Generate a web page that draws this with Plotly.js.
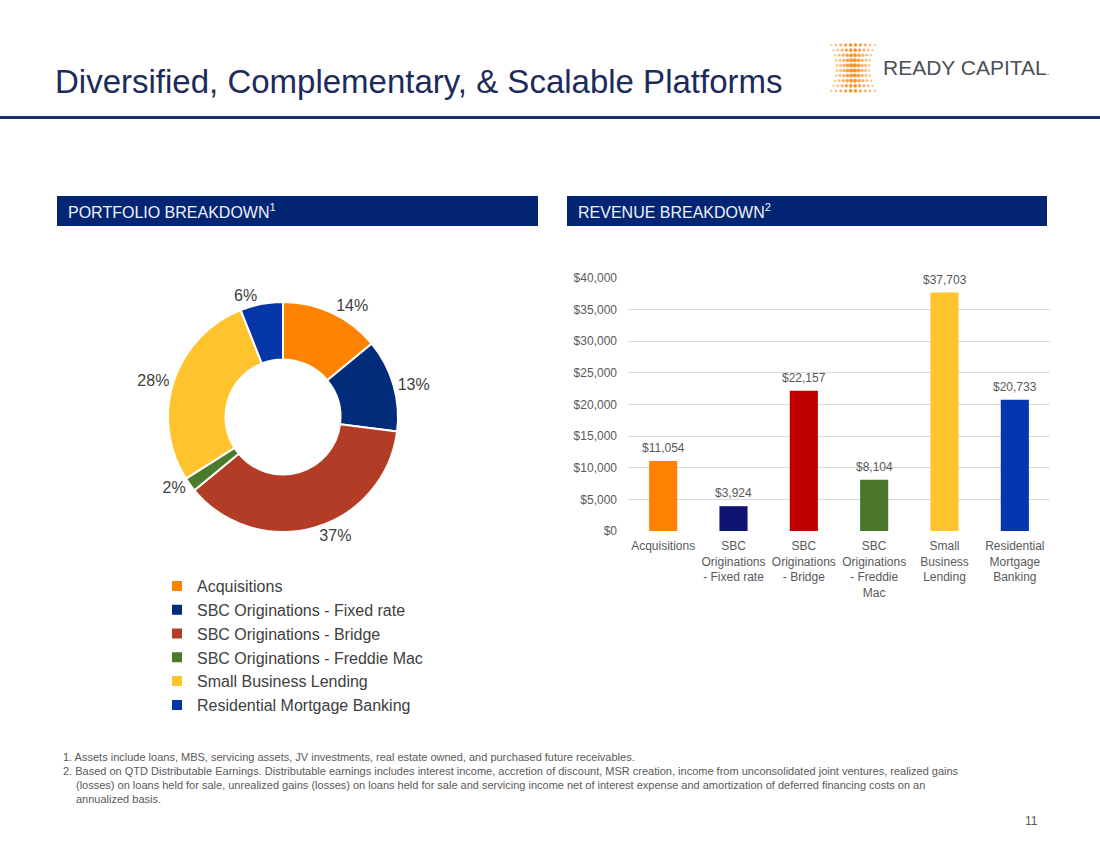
<!DOCTYPE html>
<html>
<head>
<meta charset="utf-8">
<script src="https://cdn.plot.ly/plotly-3.0.1.min.js"></script>
<style>
html,body{margin:0;padding:0;background:#fff;}
#chart{width:1100px;height:850px;}
</style>
</head>
<body>
<div id="chart"></div>
<script>
// ---------- DATA ----------
var pieLabels = ["Acquisitions", "SBC Originations - Fixed rate", "SBC Originations - Bridge",
                 "SBC Originations - Freddie Mac", "Small Business Lending", "Residential Mortgage Banking"];
var pieValues = [14, 13, 37, 2, 28, 6];
var pieColors = ["#FF8300", "#022B7A", "#B33C26", "#4A7B2B", "#FFC32D", "#0536A8"];

var barCategories = ["Acquisitions", "SBC<br>Originations<br>- Fixed rate", "SBC<br>Originations<br>- Bridge",
                     "SBC<br>Originations<br>- Freddie<br>Mac", "Small<br>Business<br>Lending", "Residential<br>Mortgage<br>Banking"];
var barValues = [11054, 3924, 22157, 8104, 37703, 20733];
var barColors = ["#FF8300", "#0E1570", "#C00000", "#4A772A", "#FFC32D", "#0536B0"];

var yTickVals = [0, 5000, 10000, 15000, 20000, 25000, 30000, 35000, 40000];

var titleText = "Diversified, Complementary, &amp; Scalable Platforms";
var leftHeader = "PORTFOLIO BREAKDOWN<sup>1</sup>";
var rightHeader = "REVENUE BREAKDOWN<sup>2</sup>";
var footnotes = [
  "1. Assets include loans, MBS, servicing assets, JV investments, real estate owned, and purchased future receivables.",
  "2. Based on QTD Distributable Earnings. Distributable earnings includes interest income, accretion of discount, MSR creation, income from unconsolidated joint ventures, realized gains",
  "(losses) on loans held for sale, unrealized gains (losses) on loans held for sale and servicing income net of interest expense and amortization of deferred financing costs on an",
  "annualized basis."
];
var pageNumber = "11";

// ---------- helpers (pixel -> paper) ----------
var W = 1100, H = 850;
function px(x){ return x / W; }
function py(y){ return 1 - y / H; }
function fmtMoney(v){ return "$" + v.toLocaleString("en-US"); }

var FONT = "Liberation Sans, Arial, sans-serif";
var GRAY = "#595959";

// ---------- traces ----------
var pieTrace = {
  type: "pie",
  labels: pieLabels,
  values: pieValues,
  sort: false,
  direction: "clockwise",
  rotation: 0,
  hole: 0.5,
  marker: {colors: pieColors, line: {color: "#ffffff", width: 2}},
  textposition: "outside",
  texttemplate: "%{value}%",
  textfont: {family: FONT, size: 16, color: "#404040"},
  domain: {x: [px(168), px(398)], y: [py(532), py(302)]},
  showlegend: true,
  hoverinfo: "label+percent"
};

var barTrace = {
  type: "bar",
  x: barCategories,
  y: barValues,
  marker: {color: barColors},
  width: 0.4,
  xaxis: "x",
  yaxis: "y",
  showlegend: false,
  hovertemplate: "%{y:$,}<extra></extra>"
};

// ---------- shapes ----------
var shapes = [
  {type: "rect", xref: "paper", yref: "paper", x0: 0, x1: 1, y0: py(119), y1: py(116),
   fillcolor: "#1B2F6B", line: {width: 0}},
  {type: "rect", xref: "paper", yref: "paper", x0: px(57), x1: px(538), y0: py(226), y1: py(196),
   fillcolor: "#032574", line: {width: 0}},
  {type: "rect", xref: "paper", yref: "paper", x0: px(567), x1: px(1047), y0: py(226), y1: py(196),
   fillcolor: "#032574", line: {width: 0}}
];

// logo dot grid (decoration)
(function(){
  var rows = 10, cols = 10;
  for (var r = 0; r < rows; r++) {
    var t = (r - 4.5) / 4.5;
    var inset = 6 * (1 - t * t);
    var left = 831 + inset, right = 875 - inset;
    var yy = 45 + r * 5.1;
    for (var c = 0; c < cols; c++) {
      var xx = left + (right - left) * c / (cols - 1);
      var u = (c - 4.5) / 4.5;
      var rad = 2.2 - 0.8 * Math.abs(u) - 0.3 * Math.abs(t);
      var op = 1 - 0.5 * Math.abs(u);
      shapes.push({type: "circle", xref: "paper", yref: "paper",
        x0: px(xx - rad), x1: px(xx + rad), y0: py(yy + rad), y1: py(yy - rad),
        fillcolor: "#F7901E", opacity: op, line: {width: 0}});
    }
  }
})();

// ---------- annotations ----------
var annotations = [
  {text: titleText, xref: "paper", yref: "paper", x: px(53), y: py(82), xanchor: "left", yanchor: "middle",
   showarrow: false, font: {family: FONT, size: 33, color: "#1C2B5A"}},
  {text: "READY CAPITAL<span style='font-size:9px'>.</span>", xref: "paper", yref: "paper", x: px(881), y: py(68),
   xanchor: "left", yanchor: "middle", showarrow: false, font: {family: FONT, size: 21, color: "#4B5056"}},
  {text: leftHeader, xref: "paper", yref: "paper", x: px(66), y: py(211), xanchor: "left", yanchor: "middle",
   showarrow: false, font: {family: FONT, size: 16, color: "#EEF2F8"}},
  {text: rightHeader, xref: "paper", yref: "paper", x: px(576), y: py(211), xanchor: "left", yanchor: "middle",
   showarrow: false, font: {family: FONT, size: 16, color: "#EEF2F8"}},
  {text: pageNumber, xref: "paper", yref: "paper", x: px(1040), y: py(821), xanchor: "right", yanchor: "middle",
   showarrow: false, font: {family: FONT, size: 12, color: GRAY}}
];
var footX = [61, 61, 74, 74];
var footY = [757, 771, 785, 799];
footnotes.forEach(function(t, i){
  annotations.push({text: t, xref: "paper", yref: "paper", x: px(footX[i]), y: py(footY[i]),
    xanchor: "left", yanchor: "middle", showarrow: false, font: {family: FONT, size: 11, color: GRAY}});
});
barValues.forEach(function(v, i){
  annotations.push({text: fmtMoney(v), xref: "x", yref: "y", x: barCategories[i], y: v,
    xanchor: "center", yanchor: "bottom", yshift: 4, showarrow: false,
    font: {family: FONT, size: 12, color: GRAY}});
});

// ---------- layout ----------
var layout = {
  width: W, height: H,
  margin: {l: 0, r: 0, t: 0, b: 0},
  paper_bgcolor: "#ffffff",
  plot_bgcolor: "#ffffff",
  font: {family: FONT, color: GRAY},
  showlegend: true,
  legend: {x: px(157), y: py(569), xanchor: "left", yanchor: "top",
           font: {family: FONT, size: 16, color: "#404040"}, bgcolor: "rgba(0,0,0,0)"},
  xaxis: {domain: [px(628), px(1050)], anchor: "y", showgrid: false, zeroline: false, showline: false,
          ticks: "", ticklabelstandoff: 6, tickfont: {family: FONT, size: 12, color: GRAY}, fixedrange: true},
  yaxis: {domain: [py(531), py(278)], anchor: "x", range: [0, 40000], tickmode: "array",
          tickvals: yTickVals, ticktext: yTickVals.map(fmtMoney),
          showgrid: true, gridcolor: "#D9D9D9", gridwidth: 1,
          zeroline: false, showline: false, ticks: "", ticklabelstandoff: 10,
          tickfont: {family: FONT, size: 12, color: GRAY}, fixedrange: true},
  shapes: shapes,
  annotations: annotations
};

Plotly.newPlot("chart", [pieTrace, barTrace], layout, {displayModeBar: false, staticPlot: true});
</script>
</body>
</html>
